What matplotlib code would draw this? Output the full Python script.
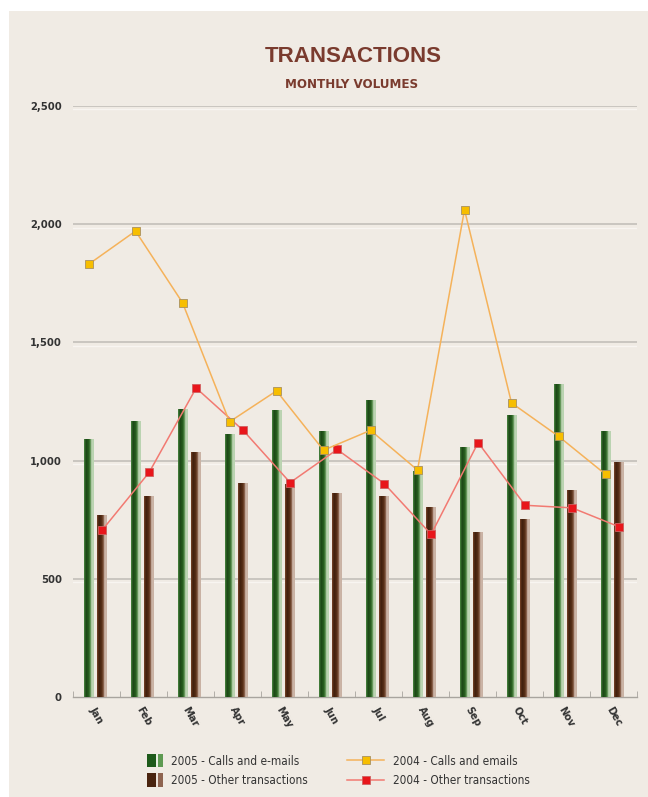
import matplotlib
matplotlib.use("Agg")
import matplotlib.pyplot as plt
import numpy as np
from matplotlib import font_manager as fm
from matplotlib.patches import Rectangle
from matplotlib.lines import Line2D
from matplotlib.colors import LinearSegmentedColormap
from matplotlib.legend_handler import HandlerBase

# ---------------- data ----------------
months = ["Jan", "Feb", "Mar", "Apr", "May", "Jun", "Jul", "Aug", "Sep", "Oct", "Nov", "Dec"]
calls_2005 = [1090, 1166, 1217, 1114, 1212, 1124, 1255, 956, 1058, 1192, 1323, 1125]
other_2005 = [770, 852, 1037, 904, 900, 865, 850, 804, 697, 752, 875, 996]
calls_2004 = [1830, 1971, 1668, 1164, 1295, 1044, 1128, 960, 2061, 1244, 1103, 942]
other_2004 = [706, 950, 1307, 1128, 907, 1047, 903, 688, 1076, 811, 800, 720]
yticks = [0, 500, 1000, 1500, 2000, 2500]
ytick_labels = ["0", "500", "1,000", "1,500", "2,000", "2,500"]
title = "TRANSACTIONS"
subtitle = "MONTHLY VOLUMES"
legend_labels = ["2005 - Calls and e-mails", "2005 - Other transactions",
                 "2004 - Calls and emails", "2004 - Other transactions"]

# ---------------- fonts ----------------
names = {f.name for f in fm.fontManager.ttflist}
narrow = "Liberation Sans Narrow" if "Liberation Sans Narrow" in names else "DejaVu Sans"
plt.rcParams["font.family"] = [narrow, "DejaVu Sans"]
plt.rcParams["font.stretch"] = "condensed"

BG = "#F0EBE4"
TITLE_C = "#7A3B2E"
TEXT_C = "#333333"

W, H = 648, 797
fig = plt.figure(figsize=(W / 100, H / 100), dpi=100)
fig.patch.set_facecolor("white")
fig.add_artist(Rectangle((9 / W, 0), 1 - 9 / W, 1 - 11 / H, transform=fig.transFigure,
                         facecolor=BG, edgecolor="none", zorder=-10))

ax = fig.add_axes([73 / W, 1 - 697 / H, (637 - 73) / W, (697 - 106) / H])
ax.set_facecolor("none")

green_cmap = LinearSegmentedColormap.from_list("g", [
    (0.0, "#4C8A42"), (0.2, "#1B4515"), (0.5, "#28601F"), (0.68, "#6E9F62"),
    (0.8, "#D5E4CC"), (0.9, "#A9C89E"), (1.0, "#C8DCC0")])
brown_cmap = LinearSegmentedColormap.from_list("b", [
    (0.0, "#7A4428"), (0.2, "#3E1E0C"), (0.5, "#5A3018"), (0.68, "#8E6650"),
    (0.8, "#E3D3C8"), (0.9, "#B89C8B"), (1.0, "#D6C4B8")])

x = np.arange(len(months))
bw = 0.2
off_g, off_b = -0.17, 0.12

grad = np.linspace(0, 1, 64).reshape(1, -1)


def gradient_bars(xpos, vals, cmap):
    bars = ax.bar(xpos, vals, width=bw, facecolor="none", edgecolor="none", zorder=2)
    for p in bars:
        x0, y0 = p.get_x(), p.get_y()
        w, h = p.get_width(), p.get_height()
        im = ax.imshow(grad, cmap=cmap, aspect="auto", extent=(x0, x0 + w, y0, y0 + h),
                       zorder=2, interpolation="bilinear")
        im.set_clip_path(p)


gradient_bars(x + off_g, calls_2005, green_cmap)
gradient_bars(x + off_b, other_2005, brown_cmap)

ax.plot(x + off_b, other_2004, color="#F27A72", lw=1.1, marker="s", ms=6,
        mfc="#E8161B", mec="#D06060", mew=0.6, zorder=4)
ax.plot(x + off_g, calls_2004, color="#F5B25A", lw=1.1, marker="s", ms=6,
        mfc="#F7BE00", mec="#A89060", mew=0.6, zorder=5)

ax.set_xlim(-0.5, len(months) - 0.5)
ax.set_ylim(0, 2500)

# grid
for v in yticks[1:]:
    ax.axhline(v, color="#C9C5BF", lw=1.4, zorder=1)
    ax.axhline(v - 14, color="#F8F5F1", lw=1.0, zorder=1)

for s in ["top", "right", "left"]:
    ax.spines[s].set_visible(False)
ax.spines["bottom"].set_color("#A8A49E")
ax.spines["bottom"].set_linewidth(1.0)
ax.spines["bottom"].set_zorder(1)

ax.set_yticks(yticks)
ax.set_yticklabels(ytick_labels, fontsize=8, color=TEXT_C, fontweight="bold")
ax.tick_params(axis="y", length=0, pad=8)

ax.set_xticks(x)
ax.set_xticklabels(months, rotation=-60, ha="center", va="top", fontsize=8,
                   color=TEXT_C, fontweight="bold")
ax.tick_params(axis="x", length=0, pad=6)
ax.set_xticks(np.arange(-0.5, len(months), 1.0), minor=True)
ax.tick_params(axis="x", which="minor", length=4, color="#A8A49E", direction="in")

# titles
fig.text(353 / W, 1 - 57 / H, title, ha="center", va="center", fontsize=16,
         fontweight="bold", color=TITLE_C, family=["Liberation Sans", "DejaVu Sans"])
fig.text(352 / W, 1 - 84 / H, subtitle, ha="center", va="center", fontsize=9.5,
         fontweight="bold", color=TITLE_C)


# legend handler for gradient patches
class GradHandler(HandlerBase):
    def __init__(self, colors):
        super().__init__()
        self.colors = colors

    def create_artists(self, legend, orig_handle, xdescent, ydescent, width, height,
                       fontsize, trans):
        arts = []
        fr = [0, 0.55, 0.7, 1.0]
        for i, c in enumerate(self.colors):
            r = Rectangle((-xdescent + fr[i] * width, -ydescent - 2),
                          (fr[i + 1] - fr[i]) * width, height + 4,
                          facecolor=c, edgecolor="none", transform=trans)
            arts.append(r)
        return arts


hg = Rectangle((0, 0), 1, 1)
hb = Rectangle((0, 0), 1, 1)
leg1 = fig.legend([hg, hb], legend_labels[:2], loc="upper left",
                  bbox_to_anchor=(136 / W, 1 - 744 / H), frameon=False, fontsize=8.5,
                  handlelength=1.4, handletextpad=0.7, labelspacing=0.55,
                  handler_map={hg: GradHandler(["#1E5A1A", "#E8EFE2", "#5E9A52"]),
                               hb: GradHandler(["#4A240F", "#EDE2DA", "#8E6450"])})
for t in leg1.get_texts():
    t.set_color(TEXT_C)

ly = Line2D([], [], color="#F5B25A", lw=1.1, marker="s", ms=6, mfc="#F7BE00", mec="#A89060", mew=0.6)
lr = Line2D([], [], color="#F27A72", lw=1.1, marker="s", ms=6, mfc="#E8161B", mec="#D06060", mew=0.6)
leg2 = fig.legend([ly, lr], legend_labels[2:], loc="upper left",
                  bbox_to_anchor=(336 / W, 1 - 744 / H), frameon=False, fontsize=8.5,
                  handlelength=3.2, handletextpad=0.7, labelspacing=0.55)
for t in leg2.get_texts():
    t.set_color(TEXT_C)

fig.savefig("out.png", dpi=100, facecolor=fig.get_facecolor())
